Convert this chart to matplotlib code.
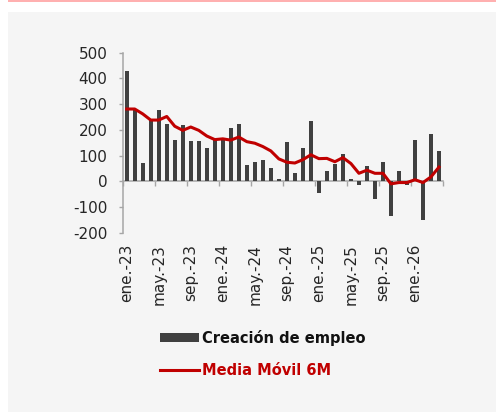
import numpy as np
import matplotlib.pyplot as plt
from matplotlib.patches import Rectangle, Patch
from matplotlib.lines import Line2D

plt.rcParams['font.family'] = ['DejaVu Sans']
plt.rcParams['axes.unicode_minus'] = False

# monthly data, ene-23 .. abr-26
meses = ['ene.', 'feb.', 'mar.', 'abr.', 'may.', 'jun.', 'jul.', 'ago.', 'sep.', 'oct.', 'nov.', 'dic.']
anios = ['23', '24', '25', '26']
fechas = [m + '-' + a for a in anios for m in meses][:40]

empleo = [430, 280, 71, 239, 276, 224, 162, 218, 156, 156, 128, 159,
          170, 206, 222, 62, 74, 84, 50, 10, 153, 33, 129, 234,
          -46, 41, 69, 107, 10, -15, 61, -69, 74, -135, 41, -15,
          160, -152, 184, 116]
media_6m = [281, 281, 262, 238, 238, 252, 214, 198, 211, 198, 176, 162,
            165, 160, 172, 154, 148, 135, 118, 87, 74, 71, 84, 103,
            88, 89, 76, 92, 69, 31, 43, 31, 31, -10, -5, -5,
            6, -5, 17, 55]

x = np.arange(len(empleo))
gris = '#a6a6a6'
rojo = '#c00000'

fig = plt.figure(figsize=(4.96, 4.12), dpi=100, facecolor='white')
fig.patches.append(Rectangle((8 / 496, 0), 1, 400 / 412, transform=fig.transFigure,
                             facecolor='#f5f5f5', edgecolor='none', zorder=-10))
fig.patches.append(Rectangle((8 / 496, 410 / 412), 1, 2 / 412, transform=fig.transFigure,
                             facecolor='#ffb0b0', edgecolor='none', zorder=-10))

ax = fig.add_axes([0.2474, 0.4352, 0.6457, 0.4369])
ax.set_facecolor('none')

ax.bar(x, empleo, width=0.5, color='#404040', zorder=2)
ax.plot(x, media_6m, color=rojo, lw=2.2, zorder=3, solid_joinstyle='round')

ax.set_xlim(-0.5, len(empleo) - 0.5)
ax.set_ylim(-200, 500)
ax.set_yticks(np.arange(-200, 501, 100))
ax.tick_params(axis='y', length=3, width=1, color=gris, pad=8, labelsize=11, labelcolor='#262626')

for s in ['top', 'right', 'bottom']:
    ax.spines[s].set_visible(False)
ax.spines['left'].set_color(gris)
ax.spines['left'].set_linewidth(1.1)

ax.set_xticks(x[::4])
ax.set_xticklabels(fechas[::4], rotation=90, fontsize=11, color='#262626')
ax.tick_params(axis='x', length=0, pad=8)

# zero line with category-boundary ticks
sec = ax.secondary_xaxis(0, transform=ax.transData)
sec.set_xticks(np.arange(-0.5, len(empleo), 4))
sec.set_xticklabels([])
sec.tick_params(axis='x', length=3.5, width=1, color=gris)
sec.spines['bottom'].set_color(gris)
sec.spines['bottom'].set_linewidth(1.1)

handles = [Patch(facecolor='#404040', edgecolor='none'),
           Line2D([], [], color=rojo, lw=2.2)]
leg = fig.legend(handles, ['Creación de empleo', 'Media Móvil 6M'],
                 loc='upper left', bbox_to_anchor=(160 / 496, 1 - 330 / 412),
                 frameon=False, borderpad=0, borderaxespad=0,
                 handlelength=2.7, handleheight=0.6, handletextpad=0.2,
                 labelspacing=1.15, prop={'size': 10.5, 'weight': 'bold'})
leg.get_texts()[0].set_color('#111111')
leg.get_texts()[1].set_color(rojo)

fig.savefig('out.png', dpi=100, facecolor=fig.get_facecolor())
